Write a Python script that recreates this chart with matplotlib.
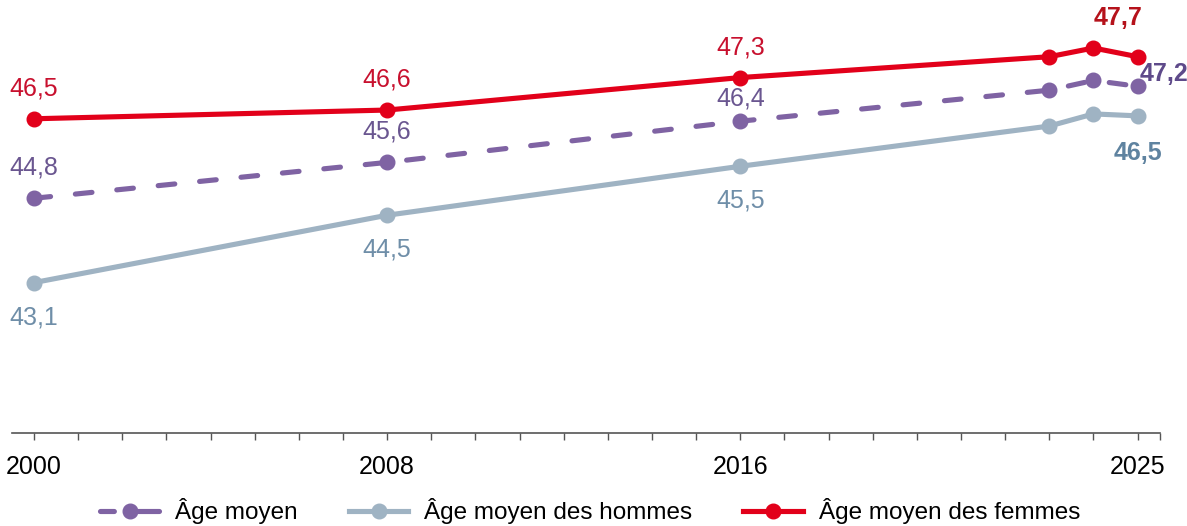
import matplotlib
matplotlib.use("Agg")
import matplotlib.pyplot as plt
from matplotlib.lines import Line2D

plt.rcParams['font.family'] = ['Liberation Sans', 'DejaVu Sans']

# donnees
annees = [2000, 2008, 2016, 2023, 2024, 2025]
age_moyen = [44.84, 45.58, 46.43, 47.07, 47.27, 47.15]
age_hommes = [43.1, 44.49, 45.5, 46.33, 46.58, 46.54]
age_femmes = [46.48, 46.66, 47.33, 47.76, 47.94, 47.76]

lab_moyen = ["44,8", "45,6", "46,4"]
lab_hommes = ["43,1", "44,5", "45,5"]
lab_femmes = ["46,5", "46,6", "47,3"]
fin_moyen = "47,2"
fin_hommes = "46,5"
fin_femmes = "47,7"
noms = ["Âge moyen", "Âge moyen des hommes", "Âge moyen des femmes"]

c_violet = "#7f63a3"
c_gris = "#9fb3c3"
c_rouge = "#e2001a"
t_violet = "#6a5690"
t_gris = "#6f8ea8"
t_rouge = "#c8102e"

fig = plt.figure(figsize=(11.87, 5.26), dpi=100)
ax = fig.add_axes([0.01, 0.177, 0.967, 0.823])

lw = 3.7
ms = 10.5
ax.plot(annees, age_moyen, color=c_violet, lw=lw, ls=(0, (3.25, 4.85)), dash_capstyle='round',
        marker='o', ms=ms, zorder=3)
ax.plot(annees, age_hommes, color=c_gris, lw=lw, marker='o', ms=ms, zorder=2)
ax.plot(annees, age_femmes, color=c_rouge, lw=lw, marker='o', ms=ms, zorder=4)

fs = 18
dy_moyen = [22, 22, 16]  # le 46,4 est plus serre sous la courbe rouge
for i in range(3):
    ax.annotate(lab_femmes[i], (annees[i], age_femmes[i]), xytext=(0, 22), textcoords='offset points',
                ha='center', va='center', fontsize=fs, color=t_rouge)
    ax.annotate(lab_moyen[i], (annees[i], age_moyen[i]), xytext=(0, dy_moyen[i]), textcoords='offset points',
                ha='center', va='center', fontsize=fs, color=t_violet)
    ax.annotate(lab_hommes[i], (annees[i], age_hommes[i]), xytext=(0, -25), textcoords='offset points',
                ha='center', va='center', fontsize=fs, color=t_gris)

ax.annotate(fin_femmes, (annees[-1], age_femmes[-1]), xytext=(-14, 28), textcoords='offset points',
            ha='center', va='center', fontsize=fs, color="#b5121b", fontweight='bold')
ax.annotate(fin_moyen, (annees[-1], age_moyen[-1]), xytext=(19, 9), textcoords='offset points',
            ha='center', va='center', fontsize=fs, color="#5e4a8a", fontweight='bold')
ax.annotate(fin_hommes, (annees[-1], age_hommes[-1]), xytext=(0, -27), textcoords='offset points',
            ha='center', va='center', fontsize=fs, color="#5f83a0", fontweight='bold')

ax.set_xlim(1999.5, 2025.5)
ax.set_ylim(40, 48.93)
ax.set_xticks([2000, 2008, 2016, 2025])
ax.set_xticks(list(range(2000, 2026)) + [2025.5], minor=True)
ax.tick_params(axis='x', which='both', length=5, width=1, color='#555555', labelsize=fs, pad=11)
ax.set_yticks([])
for s in ['left', 'right', 'top']:
    ax.spines[s].set_visible(False)
ax.spines['bottom'].set_color('#555555')
ax.spines['bottom'].set_linewidth(1.2)

# poignees de legende : tiret - point - tiret pour la moyenne
poignees = [
    Line2D([], [], color=c_violet, lw=lw, ls=(0, (2.7, 3.5, 20, 1)), dash_capstyle='round', marker='o', ms=ms),
    Line2D([], [], color=c_gris, lw=lw, marker='o', ms=ms),
    Line2D([], [], color=c_rouge, lw=lw, marker='o', ms=ms),
]
fig.legend(poignees, noms, loc='lower center', ncol=3, frameon=False, fontsize=17.5, handlelength=2.45,
           handletextpad=0.65, columnspacing=2.1, bbox_to_anchor=(0.497, -0.038))

fig.savefig("out.png", dpi=100)
